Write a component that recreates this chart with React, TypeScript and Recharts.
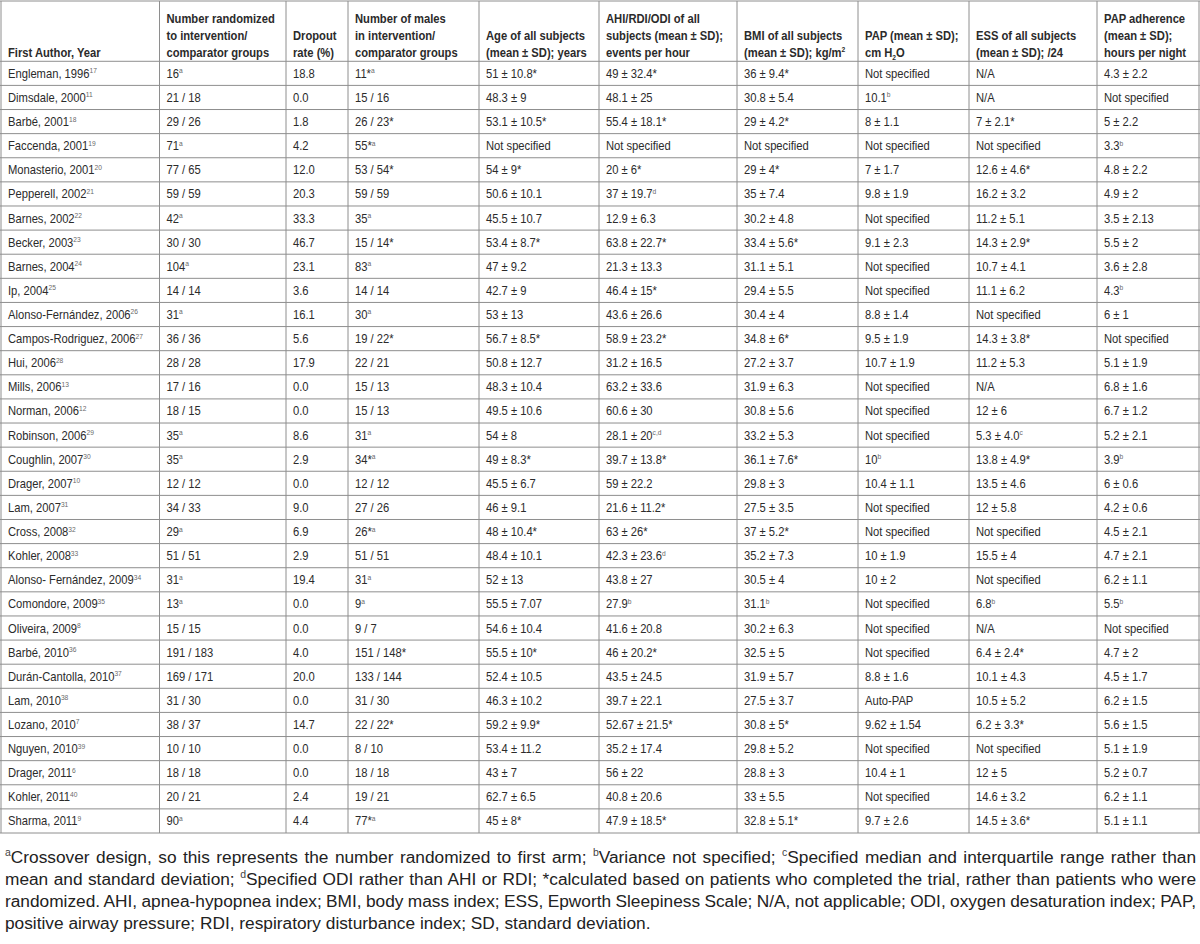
import React from 'react';
import { ScatterChart, Scatter, XAxis, YAxis, ReferenceLine } from 'recharts';

// ---------- DATA ----------
const headers = [
  'First Author, Year',
  'Number randomized\nto intervention/\ncomparator groups',
  'Dropout\nrate (%)',
  'Number of males\nin intervention/\ncomparator groups',
  'Age of all subjects\n(mean ± SD); years',
  'AHI/RDI/ODI of all\nsubjects (mean ± SD);\nevents per hour',
  'BMI of all subjects\n(mean ± SD); kg/m^{2}',
  'PAP (mean ± SD);\ncm H_{2}O',
  'ESS of all subjects\n(mean ± SD); /24',
  'PAP adherence\n(mean ± SD);\nhours per night',
];

const authors = [
  'Engleman, 1996^{17}', 'Dimsdale, 2000^{11}', 'Barbé, 2001^{18}', 'Faccenda, 2001^{19}',
  'Monasterio, 2001^{20}', 'Pepperell, 2002^{21}', 'Barnes, 2002^{22}', 'Becker, 2003^{23}',
  'Barnes, 2004^{24}', 'Ip, 2004^{25}', 'Alonso-Fernández, 2006^{26}', 'Campos-Rodriguez, 2006^{27}',
  'Hui, 2006^{28}', 'Mills, 2006^{13}', 'Norman, 2006^{12}', 'Robinson, 2006^{29}',
  'Coughlin, 2007^{30}', 'Drager, 2007^{10}', 'Lam, 2007^{31}', 'Cross, 2008^{32}',
  'Kohler, 2008^{33}', 'Alonso- Fernández, 2009^{34}', 'Comondore, 2009^{35}', 'Oliveira, 2009^{8}',
  'Barbé, 2010^{36}', 'Durán-Cantolla, 2010^{37}', 'Lam, 2010^{38}', 'Lozano, 2010^{7}',
  'Nguyen, 2010^{39}', 'Drager, 2011^{6}', 'Kohler, 2011^{40}', 'Sharma, 2011^{9}',
];

const randomized = [
  '16^{a}', '21 / 18', '29 / 26', '71^{a}', '77 / 65', '59 / 59', '42^{a}', '30 / 30',
  '104^{a}', '14 / 14', '31^{a}', '36 / 36', '28 / 28', '17 / 16', '18 / 15', '35^{a}',
  '35^{a}', '12 / 12', '34 / 33', '29^{a}', '51 / 51', '31^{a}', '13^{a}', '15 / 15',
  '191 / 183', '169 / 171', '31 / 30', '38 / 37', '10 / 10', '18 / 18', '20 / 21', '90^{a}',
];

const dropout = [
  '18.8', '0.0', '1.8', '4.2', '12.0', '20.3', '33.3', '46.7',
  '23.1', '3.6', '16.1', '5.6', '17.9', '0.0', '0.0', '8.6',
  '2.9', '0.0', '9.0', '6.9', '2.9', '19.4', '0.0', '0.0',
  '4.0', '20.0', '0.0', '14.7', '0.0', '0.0', '2.4', '4.4',
];

const males = [
  '11*^{a}', '15 / 16', '26 / 23*', '55*^{a}', '53 / 54*', '59 / 59', '35^{a}', '15 / 14*',
  '83^{a}', '14 / 14', '30^{a}', '19 / 22*', '22 / 21', '15 / 13', '15 / 13', '31^{a}',
  '34*^{a}', '12 / 12', '27 / 26', '26*^{a}', '51 / 51', '31^{a}', '9^{a}', '9 / 7',
  '151 / 148*', '133 / 144', '31 / 30', '22 / 22*', '8 / 10', '18 / 18', '19 / 21', '77*^{a}',
];

const age = [
  '51 ± 10.8*', '48.3 ± 9', '53.1 ± 10.5*', 'Not specified', '54 ± 9*', '50.6 ± 10.1', '45.5 ± 10.7', '53.4 ± 8.7*',
  '47 ± 9.2', '42.7 ± 9', '53 ± 13', '56.7 ± 8.5*', '50.8 ± 12.7', '48.3 ± 10.4', '49.5 ± 10.6', '54 ± 8',
  '49 ± 8.3*', '45.5 ± 6.7', '46 ± 9.1', '48 ± 10.4*', '48.4 ± 10.1', '52 ± 13', '55.5 ± 7.07', '54.6 ± 10.4',
  '55.5 ± 10*', '52.4 ± 10.5', '46.3 ± 10.2', '59.2 ± 9.9*', '53.4 ± 11.2', '43 ± 7', '62.7 ± 6.5', '45 ± 8*',
];

const ahi = [
  '49 ± 32.4*', '48.1 ± 25', '55.4 ± 18.1*', 'Not specified', '20 ± 6*', '37 ± 19.7^{d}', '12.9 ± 6.3', '63.8 ± 22.7*',
  '21.3 ± 13.3', '46.4 ± 15*', '43.6 ± 26.6', '58.9 ± 23.2*', '31.2 ± 16.5', '63.2 ± 33.6', '60.6 ± 30', '28.1 ± 20^{c,d}',
  '39.7 ± 13.8*', '59 ± 22.2', '21.6 ± 11.2*', '63 ± 26*', '42.3 ± 23.6^{d}', '43.8 ± 27', '27.9^{b}', '41.6 ± 20.8',
  '46 ± 20.2*', '43.5 ± 24.5', '39.7 ± 22.1', '52.67 ± 21.5*', '35.2 ± 17.4', '56 ± 22', '40.8 ± 20.6', '47.9 ± 18.5*',
];

const bmi = [
  '36 ± 9.4*', '30.8 ± 5.4', '29 ± 4.2*', 'Not specified', '29 ± 4*', '35 ± 7.4', '30.2 ± 4.8', '33.4 ± 5.6*',
  '31.1 ± 5.1', '29.4 ± 5.5', '30.4 ± 4', '34.8 ± 6*', '27.2 ± 3.7', '31.9 ± 6.3', '30.8 ± 5.6', '33.2 ± 5.3',
  '36.1 ± 7.6*', '29.8 ± 3', '27.5 ± 3.5', '37 ± 5.2*', '35.2 ± 7.3', '30.5 ± 4', '31.1^{b}', '30.2 ± 6.3',
  '32.5 ± 5', '31.9 ± 5.7', '27.5 ± 3.7', '30.8 ± 5*', '29.8 ± 5.2', '28.8 ± 3', '33 ± 5.5', '32.8 ± 5.1*',
];

const pap = [
  'Not specified', '10.1^{b}', '8 ± 1.1', 'Not specified', '7 ± 1.7', '9.8 ± 1.9', 'Not specified', '9.1 ± 2.3',
  'Not specified', 'Not specified', '8.8 ± 1.4', '9.5 ± 1.9', '10.7 ± 1.9', 'Not specified', 'Not specified', 'Not specified',
  '10^{b}', '10.4 ± 1.1', 'Not specified', 'Not specified', '10 ± 1.9', '10 ± 2', 'Not specified', 'Not specified',
  'Not specified', '8.8 ± 1.6', 'Auto-PAP', '9.62 ± 1.54', 'Not specified', '10.4 ± 1', 'Not specified', '9.7 ± 2.6',
];

const ess = [
  'N/A', 'N/A', '7 ± 2.1*', 'Not specified', '12.6 ± 4.6*', '16.2 ± 3.2', '11.2 ± 5.1', '14.3 ± 2.9*',
  '10.7 ± 4.1', '11.1 ± 6.2', 'Not specified', '14.3 ± 3.8*', '11.2 ± 5.3', 'N/A', '12 ± 6', '5.3 ± 4.0^{c}',
  '13.8 ± 4.9*', '13.5 ± 4.6', '12 ± 5.8', 'Not specified', '15.5 ± 4', 'Not specified', '6.8^{b}', 'N/A',
  '6.4 ± 2.4*', '10.1 ± 4.3', '10.5 ± 5.2', '6.2 ± 3.3*', 'Not specified', '12 ± 5', '14.6 ± 3.2', '14.5 ± 3.6*',
];

const adherence = [
  '4.3 ± 2.2', 'Not specified', '5 ± 2.2', '3.3^{b}', '4.8 ± 2.2', '4.9 ± 2', '3.5 ± 2.13', '5.5 ± 2',
  '3.6 ± 2.8', '4.3^{b}', '6 ± 1', 'Not specified', '5.1 ± 1.9', '6.8 ± 1.6', '6.7 ± 1.2', '5.2 ± 2.1',
  '3.9^{b}', '6 ± 0.6', '4.2 ± 0.6', '4.5 ± 2.1', '4.7 ± 2.1', '6.2 ± 1.1', '5.5^{b}', 'Not specified',
  '4.7 ± 2', '4.5 ± 1.7', '6.2 ± 1.5', '5.6 ± 1.5', '5.1 ± 1.9', '5.2 ± 0.7', '6.2 ± 1.1', '5.1 ± 1.1',
];

const footnoteLines = [
  '^{a}Crossover design, so this represents the number randomized to first arm; ^{b}Variance not specified; ^{c}Specified median and interquartile range rather than',
  'mean and standard deviation; ^{d}Specified ODI rather than AHI or RDI; *calculated based on patients who completed the trial, rather than patients who were',
  'randomized. AHI, apnea-hypopnea index; BMI, body mass index; ESS, Epworth Sleepiness Scale; N/A, not applicable; ODI, oxygen desaturation index; PAP,',
  'positive airway pressure; RDI, respiratory disturbance index; SD, standard deviation.',
];

// ---------- LAYOUT ----------
const COL_EDGES = [1, 159.5, 286, 348, 479, 599, 737, 858, 969, 1097, 1199];
const N_ROWS = authors.length;
const HEADER_ROWS = 2.5;
const FONT = "'Liberation Sans', Arial, Helvetica, sans-serif";
const SX = 0.89;
const FS = 12.6;
const SUP_FS = 7.5;
const TEXT = '#2b2b2b';
const GRID = '#8e8e8e';
const PAD = 7;

const columns = [authors, randomized, dropout, males, age, ahi, bmi, pap, ess, adherence];
const cellData = columns.flatMap((col, c) => col.map((text, r) => ({ x: COL_EDGES[c], y: r + 0.5, text })));
const headerData = headers.map((text, c) => ({ x: COL_EDGES[c], y: 0, text }));
const rowEdges = Array.from({ length: N_ROWS + 1 }, (_, i) => i);

type Part = { t: string; k: 'n' | 'sup' | 'sub' };
function parseRich(s: string): Part[] {
  return s
    .split(/(\^\{[^}]*\}|_\{[^}]*\})/)
    .filter((p) => p.length > 0)
    .map((p) =>
      p.startsWith('^{') ? { t: p.slice(2, -1), k: 'sup' as const } : p.startsWith('_{') ? { t: p.slice(2, -1), k: 'sub' as const } : { t: p, k: 'n' as const }
    );
}

function RichText({ x, y, s, bold }: { x: number; y: number; s: string; bold?: boolean }) {
  const parts = parseRich(s);
  let shift = 0;
  const spans = parts.map((p, i) => {
    const target = p.k === 'sup' ? -4.5 : p.k === 'sub' ? 3 : 0;
    const dy = target - shift;
    shift = target;
    return (
      <tspan key={i} dy={dy} fontSize={p.k === 'n' ? FS : SUP_FS} fill={p.k === 'n' ? TEXT : bold ? TEXT : '#6a6a6a'}>
        {p.t}
      </tspan>
    );
  });
  return (
    <text
      x={x / SX}
      y={y}
      transform={`scale(${SX},1)`}
      fontFamily={FONT}
      fontSize={FS}
      fontWeight={bold ? 700 : 400}
      fill={TEXT}
      style={{ whiteSpace: 'pre' }}
    >
      {spans}
    </text>
  );
}

const CellShape = (props: any) => {
  const { cx, cy, payload } = props;
  return <RichText x={cx + PAD} y={cy + 4.5} s={payload.text} />;
};

const HeaderShape = (props: any) => {
  const { cx, cy, payload } = props;
  const lines: string[] = payload.text.split('\n');
  const n = lines.length;
  return (
    <g>
      {lines.map((ln, i) => (
        <RichText key={i} x={cx + PAD} y={cy - 4.5 - (n - 1 - i) * 17} s={ln} bold />
      ))}
    </g>
  );
};

function FootLine({ s, last }: { s: string; last: boolean }) {
  const parts = parseRich(s);
  return (
    <div
      style={{
        textAlign: 'justify',
        textAlignLast: last ? 'left' : 'justify',
        whiteSpace: last ? 'normal' : 'nowrap',
        wordSpacing: last ? 0 : -3,
        height: 22,
        lineHeight: '22px',
      }}
    >
      {parts.map((p, i) =>
        p.k === 'sup' ? (
          <span key={i} style={{ fontSize: 10.5, verticalAlign: 'super', lineHeight: 0, color: '#444' }}>
            {p.t}
          </span>
        ) : (
          <span key={i}>{p.t}</span>
        )
      )}
    </div>
  );
}

export default function App() {
  return (
    <div style={{ position: 'absolute', left: 0, top: 0, width: 1200, height: 944, background: '#fff', overflow: 'hidden' }}>
      <ScatterChart width={1200} height={834} margin={{ top: 1, right: 0, bottom: 1, left: 0 }}>
        <XAxis type="number" dataKey="x" domain={[0, 1200]} allowDataOverflow hide />
        <YAxis type="number" dataKey="y" domain={[-HEADER_ROWS, N_ROWS]} allowDataOverflow reversed hide />
        {COL_EDGES.map((e, i) => (
          <ReferenceLine key={'v' + i} x={e} stroke={GRID} strokeWidth={1} ifOverflow="visible" />
        ))}
        <ReferenceLine y={-HEADER_ROWS} stroke={GRID} strokeWidth={1} ifOverflow="visible" />
        {rowEdges.map((r) => (
          <ReferenceLine key={'h' + r} y={r} stroke={GRID} strokeWidth={1} ifOverflow="visible" />
        ))}
        <Scatter data={headerData} isAnimationActive={false} shape={HeaderShape} />
        <Scatter data={cellData} isAnimationActive={false} shape={CellShape} />
      </ScatterChart>
      <div
        style={{
          position: 'absolute',
          left: 5,
          top: 846,
          width: 1191,
          fontFamily: FONT,
          fontSize: 17.3,
          color: '#222',
        }}
      >
        {footnoteLines.map((s, i) => (
          <FootLine key={i} s={s} last={i === footnoteLines.length - 1} />
        ))}
      </div>
    </div>
  );
}
